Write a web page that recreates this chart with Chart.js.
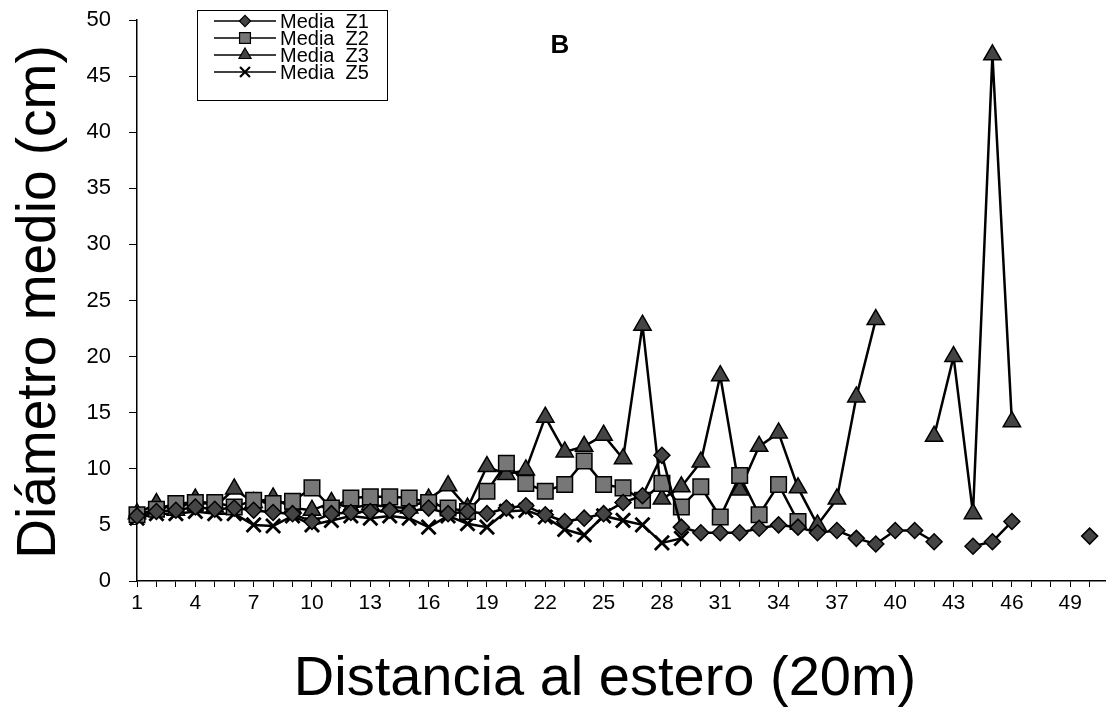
<!DOCTYPE html>
<html><head><meta charset="utf-8">
<script src="https://cdn.jsdelivr.net/npm/chart.js@4/dist/chart.umd.min.js"></script>
<style>html,body{margin:0;padding:0;background:#fff;}#wrap{width:1118px;height:709px;position:relative;}</style>
</head><body><div id="wrap"><canvas id="c" width="1118" height="709"></canvas></div>
<script>
const distances = [1,2,3,4,5,6,7,8,9,10,11,12,13,14,15,16,17,18,19,20,21,22,23,24,25,26,27,28,29,30,31,32,33,34,35,36,37,38,39,40,41,42,43,44,45,46,47,48,49,50];
const mediaZ1 = [5.8,6.2,6.3,6.6,6.4,6.5,6.3,6.1,6.0,5.3,6.0,6.1,6.2,6.3,6.2,6.5,6.0,6.2,6.0,6.5,6.7,5.9,5.3,5.6,6.0,7.0,7.6,11.2,4.8,4.3,4.3,4.3,4.7,5.0,4.8,4.3,4.5,3.8,3.3,4.5,4.5,3.5,null,3.1,3.5,5.3,null,null,null,4.0];
const mediaZ2 = [5.9,6.4,6.9,7.0,7.0,6.6,7.2,6.9,7.1,8.3,6.5,7.4,7.5,7.5,7.4,7.0,6.5,6.2,8.0,10.5,8.7,8.0,8.6,10.7,8.6,8.3,7.2,8.7,6.6,8.4,5.7,9.4,5.9,8.6,5.3,null,null,null,null,null,null,null,null,null,null,null,null,null,null,null];
const mediaZ3 = [6.0,6.9,6.3,7.3,6.6,8.2,7.0,7.4,6.5,6.3,7.0,6.5,6.8,6.6,6.5,7.3,8.5,6.5,10.2,9.5,9.9,14.6,11.5,12.0,13.0,10.9,22.8,7.3,8.4,10.6,18.3,8.1,12.0,13.2,8.3,5.0,7.3,16.4,23.3,null,null,12.9,20.0,6.0,46.9,14.2,null,null,null,null];
const mediaZ5 = [5.6,6.0,6.0,6.2,6.0,6.0,5.0,4.9,5.8,5.0,5.4,5.8,5.6,5.8,5.6,4.8,5.8,5.1,4.8,6.2,6.3,5.7,4.6,4.1,5.8,5.4,5.0,3.4,3.8,null,null,null,null,null,null,null,null,null,null,null,null,null,null,null,null,null,null,null,null,null];
const yTicks = [0,5,10,15,20,25,30,35,40,45,50];
const seriesNames = ['Media  Z1','Media  Z2','Media  Z3','Media  Z5'];
const xTitle = 'Distancia al estero (20m)';
const yTitle = 'Diámetro medio (cm)';
const panelLabel = 'B';

const FONT = 'Liberation Sans, Arial, sans-serif';
function pts(arr){ return distances.map((d,i)=>({x:d,y:arr[i]})); }

const styles = [
  {pointStyle:'rectRot', radius:8, bg:'#444'},
  {pointStyle:'rect', radius:11, bg:'#777'},
  {pointStyle:'triangle', radius:10, bg:'#444'},
  {pointStyle:'crossRot', radius:10, bg:'#000'}
];
const dataArrays = [mediaZ1, mediaZ2, mediaZ3, mediaZ5];
const datasets = dataArrays.map((arr,i)=>({
  label: seriesNames[i],
  data: pts(arr),
  borderColor:'#000',
  borderWidth:2.5,
  pointStyle: styles[i].pointStyle,
  pointRadius: styles[i].radius,
  pointBackgroundColor: styles[i].bg,
  pointBorderColor:'#000',
  pointBorderWidth: i===3 ? 2.8 : 1.5,
  spanGaps:false,
  tension:0,
  clip:false
}));

const overlay = {
  id:'overlay',
  afterDraw(chart){
    const ctx = chart.ctx;
    ctx.save();
    ctx.fillStyle='#000';
    ctx.font = '55px ' + FONT;
    ctx.textAlign='center'; ctx.textBaseline='middle';
    ctx.translate(40, 302); ctx.rotate(-Math.PI/2);
    ctx.fillText(yTitle, 0, 0);
    ctx.restore();
    ctx.save();
    ctx.fillStyle='#000';
    ctx.font = '56px ' + FONT;
    ctx.textAlign='center'; ctx.textBaseline='middle';
    ctx.fillText(xTitle, 605, 680);
    ctx.font = 'bold 26px ' + FONT;
    ctx.fillText(panelLabel, 560, 46);
    const bx=197.5, by=10.5, bw=190, bh=90;
    ctx.fillStyle='#fff';
    ctx.fillRect(bx,by,bw,bh);
    ctx.strokeStyle='#000'; ctx.lineWidth=1;
    ctx.strokeRect(bx,by,bw,bh);
    const rowsY=[21,38,55,72];
    chart.data.datasets.forEach((ds,i)=>{
      const y=rowsY[i];
      ctx.strokeStyle='#000'; ctx.lineWidth=1.5;
      ctx.beginPath(); ctx.moveTo(214,y); ctx.lineTo(276,y); ctx.stroke();
      ctx.fillStyle=ds.pointBackgroundColor; ctx.strokeStyle='#000';
      ctx.lineWidth = i===3 ? 2.2 : 1.2;
      Chart.helpers.drawPoint(ctx,{pointStyle:ds.pointStyle, radius: ds.pointRadius*0.7, rotation:0, borderWidth: ctx.lineWidth}, 245, y);
      ctx.fillStyle='#000';
      ctx.font='20px ' + FONT;
      ctx.textAlign='left'; ctx.textBaseline='middle';
      ctx.fillText(ds.label, 280, y+1);
    });
    ctx.restore();
  }
};

new Chart(document.getElementById('c'), {
  type:'line',
  data:{ datasets },
  options:{
    responsive:false,
    animation:false,
    devicePixelRatio:1,
    layout:{ padding:{ top:20, right:0, bottom:0, left:0 } },
    plugins:{ legend:{display:false}, tooltip:{enabled:false} },
    scales:{
      x:{
        type:'linear', min:1, max:50.8,
        afterFit(s){ s.height = 128; s.paddingLeft = 0; s.paddingRight = 0; },
        afterBuildTicks(s){ s.ticks = distances.map(v=>({value:v})); },
        border:{ display:true, color:'#000', width:1.5 },
        grid:{ drawOnChartArea:false, drawTicks:true, tickLength:6, color:'#000', lineWidth:1 },
        ticks:{ autoSkip:false, maxRotation:0, padding:4, color:'#000', font:{ size:21, family:FONT },
          callback(v){ return ((v-1)%3===0) ? String(v) : ''; } }
      },
      y:{
        min:0, max:50,
        afterFit(s){ s.width = 137; s.paddingTop = 0; s.paddingBottom = 0; },
        afterBuildTicks(s){ s.ticks = yTicks.map(v=>({value:v})); },
        border:{ display:true, color:'#000', width:1.5 },
        grid:{ drawOnChartArea:false, drawTicks:true, tickLength:8, color:'#000', lineWidth:1 },
        ticks:{ padding:18, color:'#000', font:{ size:22, family:FONT } }
      }
    }
  },
  plugins:[overlay]
});
</script></body></html>
